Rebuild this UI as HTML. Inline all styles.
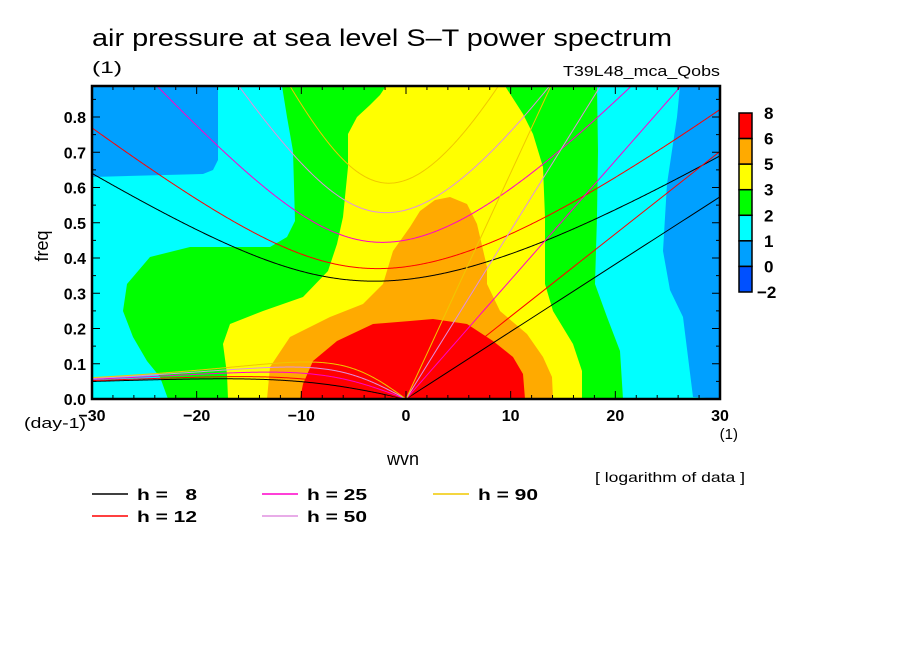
<!DOCTYPE html>
<html><head><meta charset="utf-8"><style>
body{margin:0;background:#fff;}
svg text{font-family:"Liberation Sans",sans-serif;fill:#000;}
</style></head><body>
<svg id="chart" width="904" height="654" xmlns="http://www.w3.org/2000/svg">
<rect width="904" height="654" fill="#fff"/>
<text x="92" y="46" font-size="24" textLength="580" lengthAdjust="spacingAndGlyphs">air pressure at sea level S–T power spectrum</text>
<text x="92" y="73" font-size="17" textLength="30" lengthAdjust="spacingAndGlyphs">(1)</text>
<text x="563" y="76" font-size="15" textLength="157" lengthAdjust="spacingAndGlyphs">T39L48_mca_Qobs</text>
<defs><clipPath id="pc"><rect x="92" y="86" width="628" height="313"/></clipPath></defs>
<g clip-path="url(#pc)">
<rect x="92" y="86" width="628" height="313" fill="#00ffff"/>
<polygon fill="#00a0ff" points="92,86 218,86 218,160 213,170 203,174 92,177"/>
<polygon fill="#00a0ff" points="680,86 677,117 667,184 663,251 670,290 683,317 693,397 720,399 720,86"/>
<polygon fill="#00ff00" points="282,86 287,117 293,151 295,221 287,237 270,247 190,247 150,257 127,284 123,311 133,337 147,361 160,377 168,399 623,399 620,351 607,317 595,284 597,217 598,151 597,86"/>
<polygon fill="#ffff00" points="386,86 380,95 370,105 357,117 348,134 348,167 343,217 337,244 328,271 303,297 263,311 230,324 223,344 227,374 228,399 582,399 582,371 573,344 553,311 545,284 545,217 543,167 533,134 523,114 505,86"/>
<polygon fill="#ffaa00" points="267,399 270,367 290,337 330,317 363,304 383,284 393,251 410,227 420,211 435,200 450,197 467,204 477,224 487,267 487,284 500,311 527,334 543,357 552,377 553,399"/>
<polygon fill="#ff0000" points="300,399 303,384 313,361 337,341 373,324 410,321 433,319 467,324 493,341 513,357 523,374 525,399"/>
<g id="curves"></g>
</g>
<g id="axes"></g>
<rect x="92" y="86" width="628" height="313" fill="none" stroke="#000" stroke-width="2.5"/>
<text transform="translate(48,246) rotate(-90)" font-size="18" text-anchor="middle">freq</text>
<text x="24" y="428" font-size="15" textLength="62" lengthAdjust="spacingAndGlyphs">(day-1)</text>
<text x="403" y="465" font-size="18" text-anchor="middle">wvn</text>
<text x="738" y="439" font-size="15" text-anchor="end">(1)</text>
<text x="595" y="482" font-size="14" textLength="150" lengthAdjust="spacingAndGlyphs">[ logarithm of data ]</text>
<g id="cbar"></g>
<g id="legend"></g>
</svg>
<script>
var hValues=[8,12,25,50,90];
var hColors=["#000000","#ff0000","#ff00cc","#e090e0","#f0c800"];
var xTicks=[-30,-20,-10,0,10,20,30];
var yTicks=[0.0,0.1,0.2,0.3,0.4,0.5,0.6,0.7,0.8];
var cbarLabels=["8","6","5","3","2","1","0","−2"];
var cbarColors=["#ff0000","#ffaa00","#ffff00","#00ff00","#00ffff","#00a0ff","#0050ff"];
var NS="http://www.w3.org/2000/svg";
function X(k){return 92+(k+30)/60*628;}
function Y(f){return 399-f/0.1*35.25;}
function mk(t,a,p){var e=document.createElementNS(NS,t);for(var k in a)e.setAttribute(k,a[k]);p.appendChild(e);return e;}
var a=6.371e6,Om=7.292e-5,beta=2*Om/a,cv=86400/(2*Math.PI);
function roots(s,h){var c=Math.sqrt(9.81*h),k=s/a;var p=-(c*c*k*k+3*beta*c),q=-beta*c*c*k;
 var m=2*Math.sqrt(-p/3),th=Math.acos(Math.max(-1,Math.min(1,3*q/(2*p)*Math.sqrt(-3/p))))/3;
 var r=[0,1,2].map(function(j){return m*Math.cos(th-2*Math.PI*j/3)*cv;});r.sort(function(u,v){return v-u;});return r;}
var cg=document.getElementById('curves');
hValues.forEach(function(h,i){
 var ig=[],ro=[],kv=[];
 for(var s=-30;s<=30.001;s+=0.1){var r=roots(s,h);ig.push(X(s)+','+Y(r[0]));if(s<=0)ro.push(X(s)+','+Y(Math.max(0,r[1])));}
 var c=Math.sqrt(9.81*h);for(var s2=0;s2<=30.001;s2+=0.5)kv.push(X(s2)+','+Y(c*s2/a*cv));
 [ig,ro,kv].forEach(function(pts,j){
  var e=mk('polyline',{points:pts.join(' '),fill:'none',stroke:hColors[i],'stroke-width':1},cg);
  
  
 });
});
var ax=document.getElementById('axes');
for(var s=-30;s<=30;s+=2){var L=(s%10===0)?8:4;
 mk('line',{x1:X(s),x2:X(s),y1:399,y2:399-L,stroke:'#000'},ax);mk('line',{x1:X(s),x2:X(s),y1:86,y2:86+L,stroke:'#000'},ax);}
for(var f=0;f<=0.88;f+=0.05){var L2=(Math.round(f*100)%10===0)?8:4;
 mk('line',{x1:92,x2:92+L2,y1:Y(f),y2:Y(f),stroke:'#000'},ax);mk('line',{x1:720,x2:720-L2,y1:Y(f),y2:Y(f),stroke:'#000'},ax);}
xTicks.forEach(function(t){var e=mk('text',{x:X(t),y:421,'font-size':16,'font-weight':'bold','text-anchor':'middle'},ax);e.textContent=(t<0?'−'+(-t):t);
 
 });
yTicks.forEach(function(t){var e=mk('text',{x:86,y:Y(t)+6,'font-size':16,'font-weight':'bold','text-anchor':'end'},ax);e.textContent=t.toFixed(1);
 
 });
var cb=document.getElementById('cbar');var bh=179/7;
cbarColors.forEach(function(col,i){var e=mk('rect',{x:739,y:113+i*bh,width:13,height:bh,fill:col,stroke:'#000','stroke-width':1.5},cb);
 
 });
cbarLabels.forEach(function(l,i){var e=mk('text',{x:i==7?757:764,y:113+i*bh+6,'font-size':17,'font-weight':'bold'},cb);e.textContent=l;
 
 });
var lg=document.getElementById('legend');
var lpos=[[92,494],[92,516],[262,494],[262,516],[433,494]];
hValues.forEach(function(h,i){var p=lpos[i];
 var l=mk('line',{x1:p[0],x2:p[0]+36,y1:p[1],y2:p[1],stroke:hColors[i],'stroke-width':1.5},lg);
 
 
 var t=mk('text',{x:p[0]+45,y:p[1]+6,'font-size':16,'font-weight':'bold',textLength:60,lengthAdjust:'spacingAndGlyphs'},lg);t.textContent='h = '+(h<10?'\u00a0\u00a0':'')+h;
 
 });
</script>
</body></html>
